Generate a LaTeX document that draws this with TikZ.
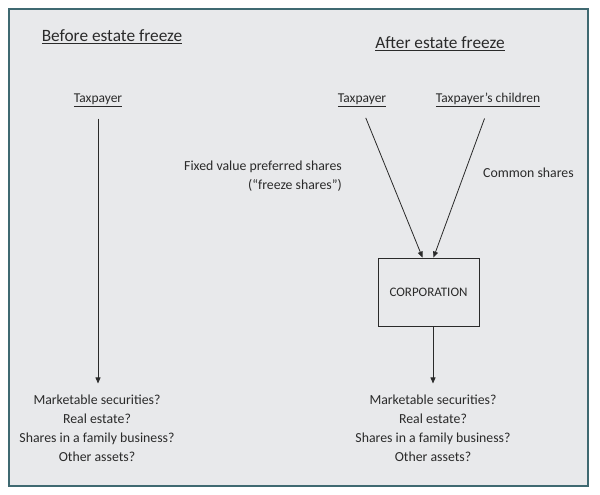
\documentclass[tikz,border=0pt]{standalone}
\usepackage{fontspec}
\setmainfont{Carlito}
\usepackage{xcolor}
\usetikzlibrary{arrows.meta,positioning}
\definecolor{panel}{HTML}{E8E9EB}
\definecolor{frame}{HTML}{3F6971}
\definecolor{ink}{HTML}{2A2A2A}
\tikzset{
  title/.style={font=\fontsize{17.3}{20}\selectfont, text=ink, inner sep=2pt},
  party/.style={font=\fontsize{13.5}{16}\selectfont, text=ink, inner sep=2pt},
  share/.style={font=\fontsize{13.8}{19}\selectfont, text=ink, inner sep=0pt},
  assets/.style={font=\fontsize{13.8}{19}\selectfont, text=ink, align=center, inner sep=2pt},
  corp/.style={draw=ink, line width=0.9pt, minimum width=101pt, minimum height=68pt,
               font=\fontsize{13}{15}\selectfont, text=ink},
  arrow/.style={-{Triangle[length=6pt,width=5pt]}, draw=ink, line width=0.8pt}
}
\begin{document}
\begin{tikzpicture}[x=1pt, y=-1pt]
  \useasboundingbox (0,0) rectangle (600,495);
  \draw[frame, line width=2.5pt, fill=panel] (9,9) rectangle (588,486);

  % before
  \node[title] (before) at (112,37) {\underline{Before estate freeze}};
  \node[party] (tp0) at (98,100) {\underline{Taxpayer}};
  \node[assets] (assets0) at (97,428) {Marketable securities?\\Real estate?\\Shares in a family business?\\Other assets?};

  % after
  \node[title] (after) at (440,44) {\underline{After estate freeze}};
  \node[party] (tp1) at (362,100) {\underline{Taxpayer}};
  \node[party] (kids) at (488,100) {\underline{Taxpayer’s children}};
  \node[corp] (corp) at (428.5,292) {CORPORATION};
  \node[share, anchor=east, align=right] (fixed) at (342,176) {Fixed value preferred shares\\(“freeze shares”)};
  \node[share, anchor=west] (common) at (483,173) {Common shares};
  \node[assets] (assets1) at (433,428) {Marketable securities?\\Real estate?\\Shares in a family business?\\Other assets?};

  \draw[arrow, shorten <=10pt, shorten >=9pt] (tp0.south) -- (tp0.south |- assets0.north);
  \draw[arrow, shorten <=10pt] (tp1.south) -- ([xshift=-6pt]corp.north);
  \draw[arrow, shorten <=10pt] (kids.south) -- ([xshift=5pt]corp.north);
  \draw[arrow, shorten >=9pt] (corp.south -| assets1.north) -- (assets1.north);
\end{tikzpicture}
\end{document}
